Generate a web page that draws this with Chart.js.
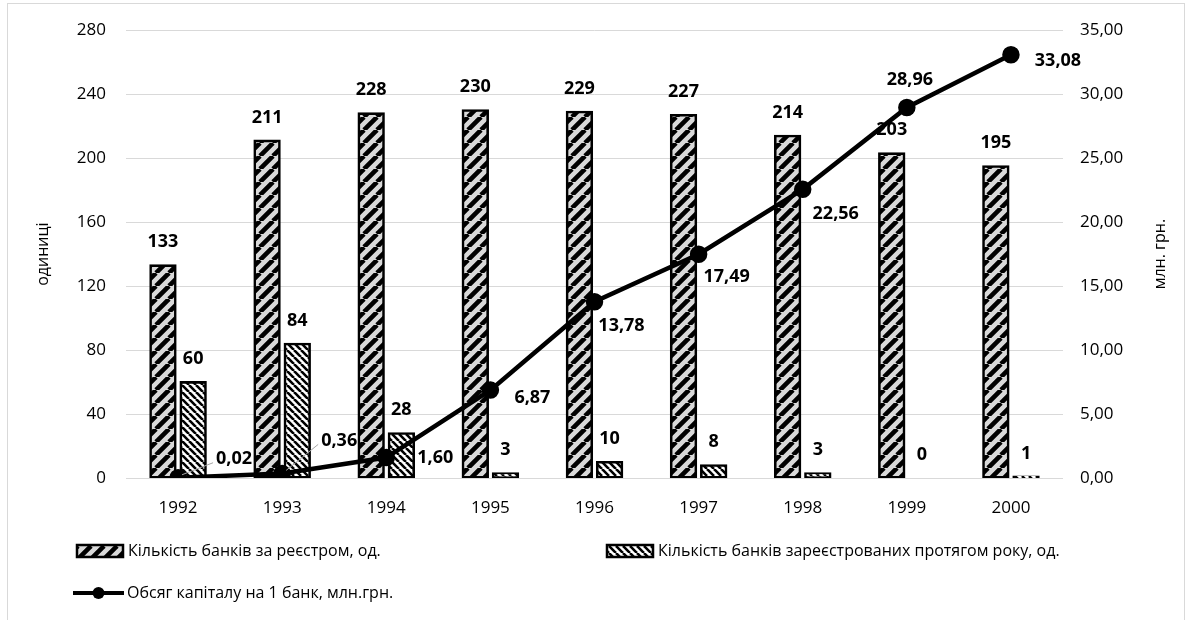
<!DOCTYPE html>
<html lang="uk">
<head>
<meta charset="utf-8">
<title>Банківська система України, 1992–2000</title>
<script src="https://cdn.jsdelivr.net/npm/chart.js@4.4.1/dist/chart.umd.min.js"></script>
<style>
  html, body { margin: 0; padding: 0; background: #ffffff; }
  canvas { display: block; }
</style>
</head>
<body>
<canvas id="chart" width="1192" height="620"></canvas>
<script>
// Роки
const years = ['1992', '1993', '1994', '1995', '1996', '1997', '1998', '1999', '2000'];
// Кількість банків за реєстром, од.
const banksInRegister = [133, 211, 228, 230, 229, 227, 214, 203, 195];
// Кількість банків, зареєстрованих протягом року, од.
const banksRegisteredInYear = [60, 84, 28, 3, 10, 8, 3, 0, 1];
// Обсяг капіталу на 1 банк, млн. грн.
const capitalPerBank = [0.02, 0.36, 1.60, 6.87, 13.78, 17.49, 22.56, 28.96, 33.08];

// Осі
const unitsAxis = { max: 280, step: 40 };
const capitalAxis = { max: 35, step: 5 };

const seriesNames = [
  'Кількість банків за реєстром, од.',
  'Кількість банків зареєстрованих протягом року, од.',
  'Обсяг капіталу на 1 банк, млн.грн.'
];
const axisTitles = { left: 'одиниці', right: 'млн. грн.' };

const FONT = '"Open Sans", "Noto Sans", sans-serif';
const fmtCapital = v => v.toFixed(2).replace('.', ',');

// Штрихування стовпців
function wideHatch() {
  const s = 13;
  const c = document.createElement('canvas');
  c.width = s; c.height = s;
  const g = c.getContext('2d');
  g.fillStyle = '#d9d9d9';
  g.fillRect(0, 0, s, s);
  g.strokeStyle = '#000';
  g.lineWidth = 4.6;
  g.beginPath();
  for (let k = -1; k <= 1; k++) {
    g.moveTo(k * s, s);
    g.lineTo(k * s + s, 0);
  }
  g.stroke();
  return g.createPattern(c, 'repeat');
}
function denseHatch() {
  const s = 7;
  const c = document.createElement('canvas');
  c.width = s; c.height = s;
  const g = c.getContext('2d');
  g.fillStyle = '#ffffff';
  g.fillRect(0, 0, s, s);
  g.strokeStyle = '#000';
  g.lineWidth = 2.6;
  g.beginPath();
  for (let k = -1; k <= 1; k++) {
    g.moveTo(k * s, 0);
    g.lineTo(k * s + s, s);
  }
  g.stroke();
  return g.createPattern(c, 'repeat');
}
const patternA = wideHatch();
const patternB = denseHatch();

// Положення підписів лінії відносно точок
const lineLabelShift = [
  [56, -19], [57, -33], [49, 0], [42, 8], [27, 24], [28, 23], [33, 25], [3, -28], [47, 6]
];

const framePlugin = {
  id: 'frame',
  beforeDraw(chart) {
    const ctx = chart.ctx;
    ctx.save();
    ctx.fillStyle = '#ffffff';
    ctx.fillRect(0, 0, chart.width, chart.height);
    ctx.strokeStyle = '#d9d9d9';
    ctx.lineWidth = 1;
    ctx.strokeRect(7.5, 3.5, 1177, 700);
    ctx.restore();
  }
};

const labelsPlugin = {
  id: 'valueLabels',
  afterDatasetsDraw(chart) {
    const ctx = chart.ctx;
    ctx.save();
    ctx.fillStyle = '#000';
    ctx.textAlign = 'center';
    ctx.textBaseline = 'middle';
    ctx.font = 'bold 18px ' + FONT;
    [0, 1].forEach(di => {
      const meta = chart.getDatasetMeta(di);
      meta.data.forEach((bar, i) => {
        ctx.fillText(String(chart.data.datasets[di].data[i]), bar.x, bar.y - 23);
      });
    });
    const lineMeta = chart.getDatasetMeta(2);
    lineMeta.data.forEach((pt, i) => {
      const [dx, dy] = lineLabelShift[i];
      const lx = pt.x + dx, ly = pt.y + dy;
      if (i < 2) {
        ctx.strokeStyle = '#a6a6a6';
        ctx.lineWidth = 1;
        ctx.beginPath();
        ctx.moveTo(pt.x + 4, pt.y - 3);
        ctx.lineTo(lx - 21, ly + 4);
        ctx.stroke();
      }
      ctx.fillText(fmtCapital(chart.data.datasets[2].data[i]), lx, ly);
    });
    ctx.restore();
  }
};

const titlesLegendPlugin = {
  id: 'titlesLegend',
  afterDraw(chart) {
    const ctx = chart.ctx;
    const area = chart.chartArea;
    const midY = (area.top + area.bottom) / 2;
    ctx.save();
    ctx.fillStyle = '#000';
    ctx.font = '16px ' + FONT;
    ctx.textAlign = 'center';
    ctx.textBaseline = 'middle';
    // назви осей
    ctx.save();
    ctx.translate(43, midY);
    ctx.rotate(-Math.PI / 2);
    ctx.fillText(axisTitles.left, 0, 0);
    ctx.restore();
    ctx.save();
    ctx.translate(1160, midY);
    ctx.rotate(-Math.PI / 2);
    ctx.fillText(axisTitles.right, 0, 0);
    ctx.restore();

    // легенда
    ctx.textAlign = 'left';
    const ds = chart.data.datasets;
    const drawBox = (x, y, fill) => {
      ctx.fillStyle = fill;
      ctx.fillRect(x, y - 6, 46, 12);
      ctx.strokeStyle = '#000';
      ctx.lineWidth = 2.5;
      ctx.strokeRect(x, y - 6, 46, 12);
    };
    drawBox(77, 551, ds[0].backgroundColor);
    ctx.fillStyle = '#000';
    ctx.fillText(ds[0].label, 128, 551);
    drawBox(607, 551, ds[1].backgroundColor);
    ctx.fillStyle = '#000';
    ctx.fillText(ds[1].label, 658, 551);
    ctx.strokeStyle = '#000';
    ctx.lineWidth = 4;
    ctx.beginPath();
    ctx.moveTo(73, 593);
    ctx.lineTo(124, 593);
    ctx.stroke();
    ctx.beginPath();
    ctx.arc(98.5, 593, 6, 0, Math.PI * 2);
    ctx.fill();
    ctx.fillText(ds[2].label, 127, 593);
    ctx.restore();
  }
};

const barStyle = {
  type: 'bar',
  yAxisID: 'y',
  borderColor: '#000',
  borderWidth: 2.6,
  borderSkipped: false,
  // рамка навколо краю стовпця, тож навіть значення 1 лишається видимим
  inflateAmount: c => (c.raw > 0 ? 1 : 0),
  barPercentage: 0.84,
  categoryPercentage: 0.58,
  order: 2
};

new Chart(document.getElementById('chart'), {
  data: {
    labels: years,
    datasets: [
      Object.assign({}, barStyle, {
        label: seriesNames[0],
        data: banksInRegister,
        backgroundColor: patternA
      }),
      Object.assign({}, barStyle, {
        label: seriesNames[1],
        data: banksRegisteredInYear,
        backgroundColor: patternB
      }),
      {
        type: 'line',
        label: seriesNames[2],
        data: capitalPerBank,
        yAxisID: 'y1',
        borderColor: '#000',
        backgroundColor: '#000',
        borderWidth: 4.5,
        pointRadius: 6.5,
        pointBackgroundColor: '#000',
        pointBorderColor: '#000',
        fill: false,
        tension: 0,
        order: 0
      }
    ]
  },
  options: {
    responsive: false,
    animation: false,
    layout: { padding: { top: 29, bottom: 0, left: 0, right: 0 } },
    plugins: {
      legend: { display: false },
      tooltip: { enabled: false }
    },
    scales: {
      x: {
        grid: { display: false },
        border: { display: false },
        ticks: { color: '#000', font: { family: FONT, size: 17 }, padding: 12 },
        afterFit(scale) { scale.height = 142; }
      },
      y: {
        position: 'left',
        min: 0,
        max: unitsAxis.max,
        ticks: { stepSize: unitsAxis.step, color: '#000', font: { family: FONT, size: 17 }, padding: 20 },
        grid: { color: '#d9d9d9', lineWidth: 1, drawTicks: false },
        border: { display: false },
        afterFit(scale) { scale.width = 126; }
      },
      y1: {
        position: 'right',
        min: 0,
        max: capitalAxis.max,
        ticks: {
          stepSize: capitalAxis.step,
          color: '#000',
          font: { family: FONT, size: 17 },
          padding: 17,
          callback: v => fmtCapital(v)
        },
        grid: { display: false, drawTicks: false },
        border: { display: false },
        afterFit(scale) { scale.width = 129; }
      }
    }
  },
  plugins: [framePlugin, labelsPlugin, titlesLegendPlugin]
});
</script>
</body>
</html>
